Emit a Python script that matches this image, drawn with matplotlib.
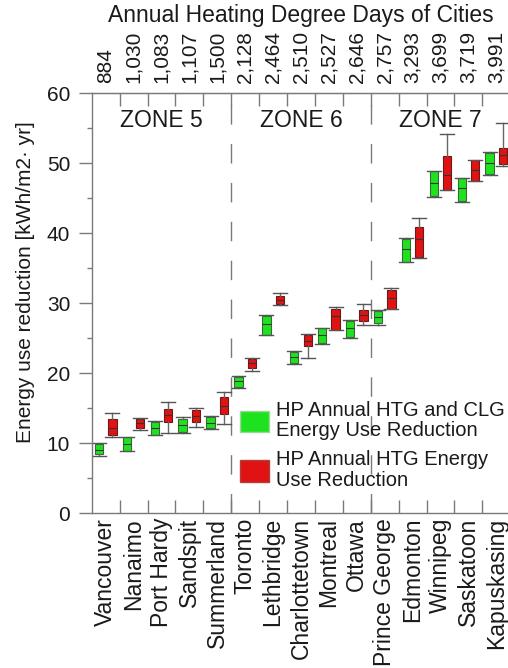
import numpy as np
import matplotlib
matplotlib.use('Agg')
import matplotlib.pyplot as plt
from matplotlib.patches import Patch
from matplotlib.ticker import MultipleLocator, FixedLocator

plt.rcParams['font.family'] = ['Liberation Sans', 'DejaVu Sans']

# Cities, ordered by annual heating degree days
cities = ['Vancouver', 'Nanaimo', 'Port Hardy', 'Sandspit', 'Summerland',
          'Toronto', 'Lethbridge', 'Charlottetown', 'Montreal', 'Ottawa',
          'Prince George', 'Edmonton', 'Winnipeg', 'Saskatoon', 'Kapuskasing']
hdd = ['884', '1,030', '1,083', '1,107', '1,500', '2,128', '2,464', '2,510',
       '2,527', '2,646', '2,757', '3,293', '3,699', '3,719', '3,991']
zones = ['ZONE 5', 'ZONE 6', 'ZONE 7']

# HP annual HTG and CLG energy use reduction (green) [kWh/m2.yr]
g_lo = [8.2, 8.8, 11.1, 11.5, 12.0, 17.8, 25.4, 21.3, 24.1, 25.0, 26.9, 35.8, 45.2, 44.5, 48.3]
g_q1 = [8.4, 8.9, 11.2, 11.6, 12.1, 18.0, 25.5, 21.5, 24.3, 25.2, 27.1, 35.9, 45.3, 44.6, 48.4]
g_med = [9.0, 9.9, 12.2, 12.6, 12.9, 18.8, 27.0, 22.3, 25.4, 26.4, 28.0, 37.7, 47.1, 46.4, 50.0]
g_q3 = [9.8, 10.8, 13.0, 13.5, 13.7, 19.5, 28.2, 23.0, 26.4, 27.5, 28.9, 39.2, 48.8, 47.8, 51.5]
g_hi = [10.0, 10.9, 13.2, 13.7, 13.9, 19.6, 28.3, 23.2, 26.5, 27.6, 29.0, 39.3, 48.9, 47.9, 51.6]

# HP annual HTG energy use reduction (red) [kWh/m2.yr]
r_lo = [10.9, 11.9, 11.5, 12.3, 12.7, 20.3, 29.7, 22.2, 26.1, 26.9, 29.1, 36.4, 46.1, 47.4, 49.6]
r_q1 = [11.1, 12.2, 13.0, 13.0, 14.1, 20.7, 29.8, 23.8, 26.2, 27.5, 29.2, 36.6, 46.2, 47.5, 49.9]
r_med = [12.1, 12.8, 14.0, 13.9, 15.3, 21.4, 30.4, 24.6, 28.1, 28.3, 30.7, 39.1, 48.3, 49.0, 51.1]
r_q3 = [13.4, 13.4, 14.9, 14.7, 16.6, 22.0, 31.0, 25.5, 29.2, 29.0, 31.9, 40.8, 51.0, 50.4, 52.2]
r_hi = [14.3, 13.6, 15.9, 15.0, 17.3, 22.2, 31.5, 25.6, 29.4, 29.9, 32.1, 42.2, 54.1, 50.5, 55.7]

GREEN = '#1fe21f'
RED = '#e01212'
TXT = '#1a1a1a'
GRAY = '#7a7a7a'


def stats(lo, q1, med, q3, hi):
    return [dict(whislo=a, q1=b, med=c, q3=d, whishi=e)
            for a, b, c, d, e in zip(lo, q1, med, q3, hi)]


def draw_boxes(ax, st, pos, face, edge):
    ax.bxp(st, positions=pos, widths=0.3, capwidths=0.5, patch_artist=True,
           showfliers=False, manage_ticks=False,
           boxprops=dict(facecolor=face, edgecolor=edge, linewidth=0.8),
           medianprops=dict(color='#333333', linewidth=0.8),
           whiskerprops=dict(color='#666666', linewidth=1.0),
           capprops=dict(color='#555555', linewidth=1.0))


fig = plt.figure(figsize=(5.08, 6.68), dpi=100)
ax = fig.add_axes([0.1805, 0.232, 0.824, 0.6287])

x = np.arange(len(cities))
draw_boxes(ax, stats(g_lo, g_q1, g_med, g_q3, g_hi), x - 0.24, GREEN, '#3a6a3a')
draw_boxes(ax, stats(r_lo, r_q1, r_med, r_q3, r_hi), x + 0.24, RED, '#6a1a1a')

# zone separators
for b in [4.5, 9.5]:
    ax.axvline(b, color=GRAY, linewidth=1.0, linestyle=(0, (14, 14)), zorder=0)
for name, cx in zip(zones, [2, 7, 12]):
    ax.text(cx, 55.2, name, ha='center', va='baseline', fontsize=16.5, color=TXT)

ax.set_xlim(-0.5, len(cities) - 0.5)
ax.set_ylim(0, 60)

ax.set_xticks(x)
ax.set_xticklabels(cities, rotation=90, fontsize=16.5, color=TXT)
ax.xaxis.set_minor_locator(FixedLocator(np.arange(0.5, len(cities) - 1, 1.0)))
ax.tick_params(axis='x', which='major', length=0, pad=3.5)
ax.tick_params(axis='x', which='minor', direction='in', length=9.5,
               top=True, bottom=True, color=GRAY, width=1.0)

ax.yaxis.set_major_locator(MultipleLocator(10))
ax.yaxis.set_minor_locator(MultipleLocator(5))
ax.tick_params(axis='y', which='major', direction='out', length=9.5, width=1.0,
               color=GRAY, labelsize=15, labelcolor=TXT, pad=6)
ax.tick_params(axis='y', which='minor', direction='out', length=3.6, width=1.0,
               color=GRAY)
ax.set_ylabel('Energy use reduction [kWh/m2· yr]', fontsize=15, color=TXT)
ax.yaxis.set_label_coords(-0.136, 0.55)

for s in ax.spines.values():
    s.set_color(GRAY)
    s.set_linewidth(1.0)

top = ax.secondary_xaxis('top')
top.set_xticks(x, labels=hdd)
top.tick_params(length=0, rotation=90, pad=7, labelsize=15, labelcolor=TXT)
top.spines['top'].set_color(GRAY)

fig.text(0.5925, 1 - 22 / 668, 'Annual Heating Degree Days of Cities',
         ha='center', va='baseline', fontsize=16.5, color=TXT)

handles = [Patch(facecolor=GREEN, edgecolor='#9ad89a'),
           Patch(facecolor=RED, edgecolor='#b04040')]
labels = ['HP Annual HTG and CLG\nEnergy Use Reduction',
          'HP Annual HTG Energy\nUse Reduction']
leg = ax.legend(handles, labels, loc='upper left', bbox_to_anchor=(0.355, 0.267),
                frameon=False, fontsize=14.5, borderpad=0, borderaxespad=0,
                handlelength=1.44, handleheight=1.24, handletextpad=0.35,
                labelspacing=0.5)
for t in leg.get_texts():
    t.set_linespacing(1.1)
    t.set_color(TXT)

fig.savefig('out.png', dpi=100, facecolor='white')
